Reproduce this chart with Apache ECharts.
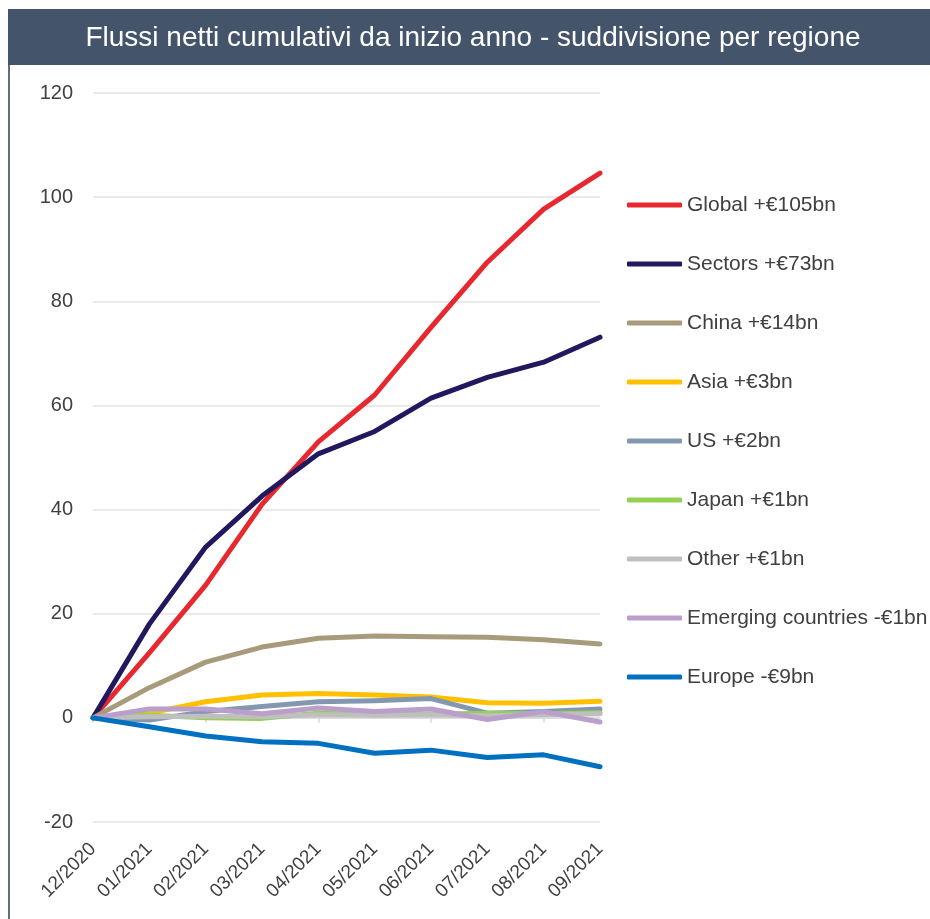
<!DOCTYPE html>
<html>
<head>
<meta charset="utf-8">
<script src="https://cdn.jsdelivr.net/npm/echarts@6/dist/echarts.min.js"></script>
<style>
html,body{margin:0;padding:0;background:#fff;}
#chart{width:930px;height:919px;}
</style>
</head>
<body>
<div id="chart"></div>
<script>
const titleText = 'Flussi netti cumulativi da inizio anno - suddivisione per regione';
const categories = ['12/2020','01/2021','02/2021','03/2021','04/2021','05/2021','06/2021','07/2021','08/2021','09/2021'];
const yTicks = { min: -20, max: 120, interval: 20 };

const seriesNames = ['Global +€105bn','Sectors +€73bn','China +€14bn','Asia +€3bn','US +€2bn','Japan +€1bn','Other +€1bn','Emerging countries -€1bn','Europe -€9bn'];
const seriesColors = ['#E8282F','#221860','#A89B7C','#FFC000','#8497B0','#92D050','#BFBFBF','#B99FCA','#0070C0'];

const globalVals   = [0, 12.5, 25.5, 41.0, 53.0, 62.0, 75.0, 87.5, 97.7, 104.6];
const sectorsVals  = [0, 18.0, 32.8, 42.6, 50.7, 55.0, 61.4, 65.4, 68.3, 73.1];
const chinaVals    = [0, 5.8, 10.7, 13.6, 15.3, 15.7, 15.6, 15.5, 15.0, 14.2];
const asiaVals     = [0, 0.9, 3.1, 4.4, 4.7, 4.4, 4.0, 2.9, 2.8, 3.2];
const usVals       = [0, -0.4, 1.2, 2.2, 3.1, 3.3, 3.7, 0.9, 1.2, 1.7];
const japanVals    = [0, 0.5, 0.0, -0.1, 0.9, 0.6, 0.7, 0.9, 0.8, 1.0];
const otherVals    = [0, 0.2, 0.3, 0.2, 0.6, 0.5, 0.6, 0.4, 0.6, 0.8];
const emergingVals = [0, 1.7, 1.7, 0.8, 1.9, 1.2, 1.7, -0.3, 1.2, -0.8];
const europeVals   = [0, -1.7, -3.5, -4.6, -4.9, -6.8, -6.2, -7.6, -7.1, -9.4];

const allVals = [globalVals, sectorsVals, chinaVals, asiaVals, usVals, japanVals, otherVals, emergingVals, europeVals];

const chart = echarts.init(document.getElementById('chart'), null, { renderer: 'canvas' });
const FONT = 'Liberation Sans, Arial, sans-serif';

const series = seriesNames.map((name, i) => ({
  name: name,
  type: 'line',
  xAxisIndex: 0,
  data: allVals[i],
  symbol: 'none',
  showSymbol: false,
  z: 10 + i,
  lineStyle: { width: 5, color: seriesColors[i], cap: 'round', join: 'round' },
  itemStyle: { color: seriesColors[i] }
}));

chart.setOption({
  animation: false,
  backgroundColor: '#ffffff',
  textStyle: { fontFamily: FONT },
  graphic: [
    { type: 'rect', shape: { x: 8, y: 9, width: 922, height: 56 }, style: { fill: '#44546A' }, z: 0 },
    { type: 'rect', shape: { x: 8, y: 65, width: 2, height: 854 }, style: { fill: '#5F6F80' }, z: 0 },
    { type: 'text', x: 473, y: 38, style: { text: titleText, fill: '#ffffff', font: '28px ' + FONT, textAlign: 'center', textVerticalAlign: 'middle' }, z: 1 }
  ],
  grid: { left: 93, right: 330, top: 93, bottom: 97, containLabel: false },
  legend: {
    orient: 'vertical',
    left: 627,
    top: 194,
    padding: 0,
    itemWidth: 55,
    itemHeight: 5,
    itemGap: 37,
    icon: 'roundRect',
    data: seriesNames,
    textStyle: { fontSize: 21, color: '#404040', fontFamily: FONT, lineHeight: 22 },
    selectedMode: false
  },
  xAxis: [
    {
      type: 'category',
      data: categories,
      boundaryGap: false,
      position: 'top',
      axisLine: { onZero: true, lineStyle: { color: '#D9D9D9', width: 1.5 } },
      axisTick: { show: true, inside: true, length: 5, lineStyle: { color: '#D9D9D9', width: 1.5 } },
      axisLabel: { show: false },
      splitLine: { show: false }
    },
    {
      type: 'category',
      data: categories,
      boundaryGap: false,
      position: 'bottom',
      axisLine: { show: false, onZero: false },
      axisTick: { show: false },
      axisLabel: { rotate: 45, fontSize: 19, color: '#404040', fontFamily: FONT, margin: 24, interval: 0 },
      splitLine: { show: false }
    }
  ],
  yAxis: {
    type: 'value',
    min: yTicks.min,
    max: yTicks.max,
    interval: yTicks.interval,
    axisLine: { show: false },
    axisTick: { show: false },
    axisLabel: { fontSize: 20, color: '#404040', fontFamily: FONT, margin: 20 },
    splitLine: { lineStyle: { color: '#E3E3E3', width: 1.5 } }
  },
  series: series
});
</script>
</body>
</html>
